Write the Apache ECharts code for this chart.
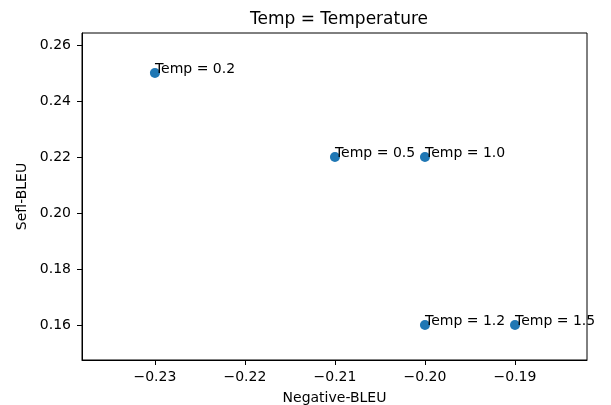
<!DOCTYPE html>
<html lang="en">

<head>
  <meta charset="UTF-8">
  <script src="https://cdn.jsdelivr.net/npm/echarts@6/dist/echarts.min.js"></script>
  <title>Temp = Temperature</title>
  <style>
    html,
    body,
    main {
      height: 100%;
      width: 100%;
      padding: 0;
      margin: 0;
      background: #fff;
    }
  </style>
</head>

<body>
  <main></main>
</body>
<script>
  const negBleu = [-0.23, -0.21, -0.20, -0.20, -0.19]
  const selfBleu = [0.25, 0.22, 0.22, 0.16, 0.16]
  const temps = ['0.2', '0.5', '1.0', '1.2', '1.5']
  const xTicks = [-0.23, -0.22, -0.21, -0.20, -0.19]
  const yTicks = [0.16, 0.18, 0.20, 0.22, 0.24, 0.26]

  const fontFamily = 'DejaVu Sans'
  const fmt = (v) => (v < 0 ? '\u2212' : '') + Math.abs(v).toFixed(2)

  const option = {
    animation: false,
    title: {
      text: 'Temp = Temperature',
      left: 334,
      top: 6,
      textAlign: 'center',
      textStyle: { fontFamily, fontSize: 17, fontWeight: 'normal', color: '#000' }
    },
    grid: {
      left: 82,
      right: 24,
      top: 33,
      bottom: 45,
      outerBoundsMode: 'none',
      containLabel: false,
      show: true,
      borderColor: '#000',
      borderWidth: 1
    },
    xAxis: {
      type: 'value',
      min: -0.2381,
      max: -0.1820,
      name: 'Negative-BLEU',
      nameLocation: 'middle',
      nameGap: 31,
      nameTextStyle: { fontFamily, fontSize: 14, color: '#000' },
      axisLine: { show: true, onZero: false, lineStyle: { color: '#000' } },
      axisTick: { show: true, length: 5, lineStyle: { color: '#000' }, customValues: xTicks },
      axisLabel: { fontFamily, fontSize: 14, color: '#000', margin: 10, formatter: fmt, customValues: xTicks },
      splitLine: { show: false }
    },
    yAxis: {
      type: 'value',
      min: 0.1475,
      max: 0.2643,
      name: 'Sefl-BLEU',
      nameLocation: 'middle',
      nameGap: 53,
      nameTextStyle: { fontFamily, fontSize: 14, color: '#000' },
      axisLine: { show: true, onZero: false, lineStyle: { color: '#000' } },
      axisTick: { show: true, length: 5, lineStyle: { color: '#000' }, customValues: yTicks },
      axisLabel: { fontFamily, fontSize: 14, color: '#000', margin: 11, formatter: fmt, customValues: yTicks },
      splitLine: { show: false }
    },
    series: [
      {
        type: 'scatter',
        symbolSize: 10,
        itemStyle: { color: '#1f77b4', opacity: 1 },
        data: negBleu.map((x, i) => [x, selfBleu[i], temps[i]]),
        label: {
          show: true,
          position: ['50%', '50%'],
          align: 'left',
          verticalAlign: 'bottom',
          offset: [0, 3],
          fontFamily,
          fontSize: 14,
          color: '#000',
          formatter: (p) => 'Temp = ' + p.data[2]
        }
      }
    ]
  }

  const ins = echarts.init(document.getElementsByTagName('main')[0])
  ins.setOption(option)
</script>

</html>
